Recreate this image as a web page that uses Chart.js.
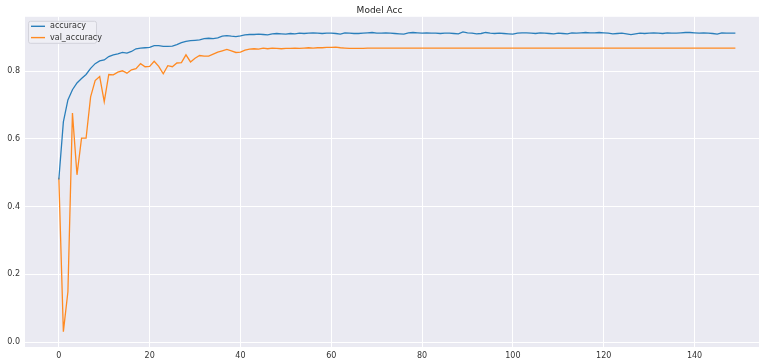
<!DOCTYPE html>
<html>
<head>
<meta charset="utf-8">
<script src="https://cdn.jsdelivr.net/npm/chart.js@4/dist/chart.umd.min.js"></script>
<style>
  html, body { margin: 0; padding: 0; background: #fff; overflow: hidden; }
  #wrap { width: 759px; height: 362px; }
</style>
</head>
<body>
<div id="wrap"><canvas id="accChart" width="759" height="362"></canvas></div>
<script>
const chartTitle = "Model Acc";
const seriesLabels = ["accuracy", "val_accuracy"];
const seriesColors = ["#2b7fbb", "#ff8a22"];

const accuracy = [
  0.480, 0.650, 0.715, 0.745, 0.765, 0.778, 0.790, 0.808, 0.822, 0.830,
  0.833, 0.843, 0.848, 0.851, 0.855, 0.853, 0.858, 0.866, 0.868, 0.869,
  0.870, 0.875, 0.875, 0.873, 0.873, 0.874, 0.878, 0.884, 0.888, 0.890,
  0.891, 0.892, 0.896, 0.897, 0.896, 0.898, 0.903, 0.905, 0.903, 0.902,
  0.904, 0.907, 0.908, 0.908, 0.909, 0.908, 0.907, 0.910, 0.911, 0.910,
  0.909, 0.911, 0.910, 0.912, 0.911, 0.912, 0.913, 0.912, 0.911, 0.912,
  0.912, 0.911, 0.909, 0.913, 0.912, 0.911, 0.911, 0.912, 0.913, 0.914,
  0.912, 0.912, 0.913, 0.912, 0.911, 0.910, 0.909, 0.913, 0.914, 0.913,
  0.912, 0.913, 0.912, 0.912, 0.911, 0.912, 0.912, 0.911, 0.910, 0.916,
  0.913, 0.912, 0.910, 0.911, 0.914, 0.912, 0.911, 0.912, 0.911, 0.910,
  0.909, 0.912, 0.913, 0.913, 0.912, 0.911, 0.913, 0.912, 0.911, 0.910,
  0.912, 0.911, 0.910, 0.913, 0.912, 0.913, 0.914, 0.913, 0.913, 0.914,
  0.913, 0.912, 0.910, 0.911, 0.912, 0.910, 0.908, 0.910, 0.912, 0.911,
  0.912, 0.913, 0.912, 0.911, 0.913, 0.912, 0.912, 0.913, 0.914, 0.914,
  0.913, 0.912, 0.913, 0.912, 0.911, 0.909, 0.913, 0.912, 0.912, 0.912
];

const valAccuracy = [
  0.485, 0.031, 0.149, 0.676, 0.494, 0.602, 0.602, 0.724, 0.772, 0.784,
  0.710, 0.790, 0.789, 0.797, 0.801, 0.794, 0.804, 0.807, 0.822, 0.813,
  0.814, 0.829, 0.814, 0.792, 0.816, 0.813, 0.824, 0.825, 0.848, 0.827,
  0.838, 0.846, 0.844, 0.844, 0.850, 0.856, 0.860, 0.864, 0.860, 0.855,
  0.856, 0.862, 0.865, 0.866, 0.865, 0.868, 0.866, 0.868, 0.867, 0.866,
  0.867, 0.867, 0.868, 0.867, 0.868, 0.869, 0.868, 0.869, 0.869, 0.870,
  0.870, 0.871, 0.869, 0.868, 0.867, 0.867, 0.867, 0.867, 0.868, 0.868,
  0.868, 0.868, 0.868, 0.868, 0.868, 0.868, 0.868, 0.868, 0.868, 0.868,
  0.868, 0.868, 0.868, 0.868, 0.868, 0.868, 0.868, 0.868, 0.868, 0.868,
  0.868, 0.868, 0.868, 0.868, 0.868, 0.868, 0.868, 0.868, 0.868, 0.868,
  0.868, 0.868, 0.868, 0.868, 0.868, 0.868, 0.868, 0.868, 0.868, 0.868,
  0.868, 0.868, 0.868, 0.868, 0.868, 0.868, 0.868, 0.868, 0.868, 0.868,
  0.868, 0.868, 0.868, 0.868, 0.868, 0.868, 0.868, 0.868, 0.868, 0.868,
  0.868, 0.868, 0.868, 0.868, 0.868, 0.868, 0.868, 0.868, 0.868, 0.868,
  0.868, 0.868, 0.868, 0.868, 0.868, 0.868, 0.868, 0.868, 0.868, 0.868
];

const xTicks = [0, 20, 40, 60, 80, 100, 120, 140];
const yTicks = [0.0, 0.2, 0.4, 0.6, 0.8];

/* =========================
   PLUGINS
========================= */
const plotBackground = {
    id: "plotBackground",
    beforeDraw(chart) {
        const { ctx, chartArea: a } = chart;
        ctx.save();
        ctx.fillStyle = "#eaeaf2";
        ctx.fillRect(a.left, a.top, a.right - a.left, a.bottom - a.top);
        ctx.restore();
    }
};

const innerLegend = {
    id: "innerLegend",
    afterDatasetsDraw(chart) {
        const { ctx, chartArea: a } = chart;
        const x0 = a.left + 3, y0 = a.top + 4;
        ctx.save();
        ctx.fillStyle = "rgba(240,240,246,0.85)";
        ctx.strokeStyle = "#d3d3db";
        ctx.lineWidth = 1;
        ctx.beginPath();
        ctx.roundRect(x0 + 0.5, y0 + 0.5, 68, 22, 2);
        ctx.fill();
        ctx.stroke();
        ctx.font = "8px 'DejaVu Sans'";
        ctx.textBaseline = "middle";
        chart.data.datasets.forEach((ds, i) => {
            const y = y0 + 5.5 + i * 11.3;
            ctx.strokeStyle = ds.borderColor;
            ctx.lineWidth = 1.4;
            ctx.beginPath();
            ctx.moveTo(x0 + 3, y);
            ctx.lineTo(x0 + 17, y);
            ctx.stroke();
            ctx.fillStyle = "#333333";
            ctx.fillText(ds.label, x0 + 22, y);
        });
        ctx.restore();
    }
};

/* =========================
   CHART
========================= */
const ctx = document.getElementById("accChart").getContext("2d");

new Chart(ctx, {
    type: "line",
    data: {
        datasets: [accuracy, valAccuracy].map((vals, k) => ({
            label: seriesLabels[k],
            data: vals.map((v, i) => ({ x: i, y: v })),
            borderColor: seriesColors[k],
            borderWidth: 1.3,
            pointRadius: 0,
            tension: 0,
            fill: false
        }))
    },
    options: {
        responsive: false,
        animation: false,
        events: [],
        layout: { padding: { left: 0, right: 0, top: 0, bottom: 0 } },
        plugins: {
            legend: { display: false },
            tooltip: { enabled: false },
            title: {
                display: true,
                text: chartTitle,
                color: "#262626",
                font: { family: "'DejaVu Sans'", size: 9, weight: "normal" },
                padding: { top: 5, bottom: 1 }
            }
        },
        scales: {
            x: {
                type: "linear",
                min: -7.45,
                max: 154.2,
                afterBuildTicks: s => { s.ticks = xTicks.map(v => ({ value: v })); },
                afterFit: s => { s.height = 15; },
                border: { display: false },
                grid: { color: "#ffffff", lineWidth: 1, drawTicks: false },
                ticks: {
                    padding: 4,
                    color: "#333333",
                    font: { family: "'DejaVu Sans'", size: 8 },
                    maxRotation: 0
                }
            },
            y: {
                type: "linear",
                min: -0.0142,
                max: 0.9603,
                afterBuildTicks: s => { s.ticks = yTicks.map(v => ({ value: v })); },
                afterFit: s => { s.width = 25; },
                border: { display: false },
                grid: { color: "#ffffff", lineWidth: 1, drawTicks: false },
                ticks: {
                    padding: 5,
                    color: "#333333",
                    font: { family: "'DejaVu Sans'", size: 8 },
                    callback: v => v.toFixed(1)
                }
            }
        }
    },
    plugins: [plotBackground, innerLegend]
});
</script>
</body>
</html>
